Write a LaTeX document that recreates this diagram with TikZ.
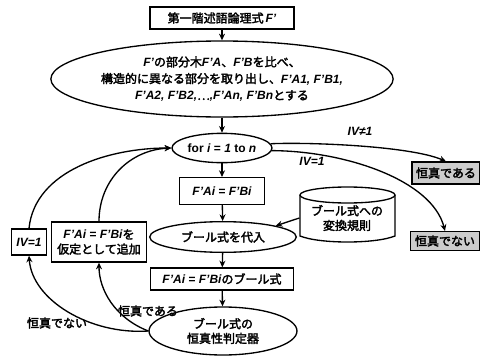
\documentclass[tikz,border=0pt]{standalone}
\usepackage{fontspec}
\newfontfamily\jp{Noto Sans CJK JP}[BoldFont={Noto Sans CJK JP},BoldFeatures={FakeBold=2.5}]
\newfontfamily\lt{Liberation Sans}
\newcommand\fv[1]{{\lt\bfseries\itshape #1}}
\usetikzlibrary{shapes.geometric,arrows.meta}
\begin{document}
\begin{tikzpicture}[x=0.75pt,y=-0.75pt,
 every node/.style={font=\jp\bfseries\fontsize{9}{11}\selectfont},
 box/.style={draw,line width=1pt,inner sep=0pt,align=center},
 ell/.style={draw,ellipse,line width=1pt,inner sep=0pt,align=center},
 hl/.style={box,fill=gray!40},
 arr/.style={-{Stealth[length=5pt,width=4.5pt]},line width=1pt},
 con/.style={line width=1pt}]
\useasboundingbox (0,0) rectangle (480,361);
% cylinder
\draw[con,fill=white] (300,195) -- (300,236) .. controls (320,244) and (375,244) .. (395,236) -- (395,195);
\draw[con] (347.5,195) ellipse[x radius=47.5,y radius=8];
\node[align=center,minimum width=71pt,minimum height=37pt,inner sep=0pt] (cyl) at (347,218) {ブール式への\\変換規則};

\node[box,minimum width=108pt,minimum height=16.5pt] (top) at (222,18) {第一階述語論理式\,\fv{F’}};
\node[ell,minimum width=240pt,minimum height=57pt,font=\jp\bfseries\fontsize{9}{12.5}\selectfont] (big) at (222,79) {\fv{F’}の部分木\fv{F’A}、\fv{F’B}を比べ、\\構造的に異なる部分を取り出し、\fv{F’A1, F’B1,}\\\fv{F’A2, F’B2,}…\fv{,F’An, F’Bn}とする};
\node[ell,minimum width=75pt,minimum height=22pt] (for) at (222,148) {{\lt\bfseries for \textit{i} = \textit{1} to \textit{n}}};
\node[box,minimum width=64pt,minimum height=20pt] (eq) at (222,191) {\fv{F’Ai = F’Bi}};
\node[ell,minimum width=110pt,minimum height=23pt] (sub) at (223,237) {ブール式を代入};
\node[box,minimum width=107pt,minimum height=16.5pt] (bool) at (222,279) {\fv{F’Ai = F’Bi}のブール式};
\node[ell,minimum width=111pt,minimum height=36pt] (judge) at (223,331) {ブール式の\\恒真性判定器};
\node[box,minimum width=71pt,minimum height=30pt] (assume) at (99,242) {\fv{F’Ai = F’Bi}を\\仮定として追加};
\node[box,minimum width=26pt,minimum height=19.5pt] (iv) at (29,242) {\fv{IV=1}};
\node[hl,minimum width=51pt,minimum height=16.5pt] (yes) at (446,173) {恒真である};
\node[hl,minimum width=52pt,minimum height=14pt] (no) at (445,241) {恒真でない};

\node (lyes) at (148,311) {恒真である};
\node (lno) at (57,323) {恒真でない};
\node (lne) at (360,131) {\fv{IV≠1}};
\node (leq) at (312,161) {\fv{IV=1}};

\draw[arr] (top) -- (big);
\draw[arr] (big) -- (for);
\draw[arr] (for) -- (eq);
\draw[arr] (eq) -- (sub);
\draw[arr] (sub) -- (bool);
\draw[arr] (bool) -- (judge);
\draw[arr] (cyl.west) -- (sub.12);
\draw[arr] (for.5) .. controls (310,142) and (410,146) .. (yes.north);
\draw[arr] (for.-3) .. controls (345,151) and (432,180) .. (no.north);
\draw[arr] (judge.west) .. controls (115,318) and (99,290) .. (assume.south);
\draw[arr] (assume.north) .. controls (99,180) and (130,150) .. (for.west);
\draw[arr] (judge.west) .. controls (90,335) and (32,300) .. (iv.south);
\draw[arr] (iv.north) .. controls (35,170) and (110,148) .. (for.west);
\end{tikzpicture}
\end{document}
